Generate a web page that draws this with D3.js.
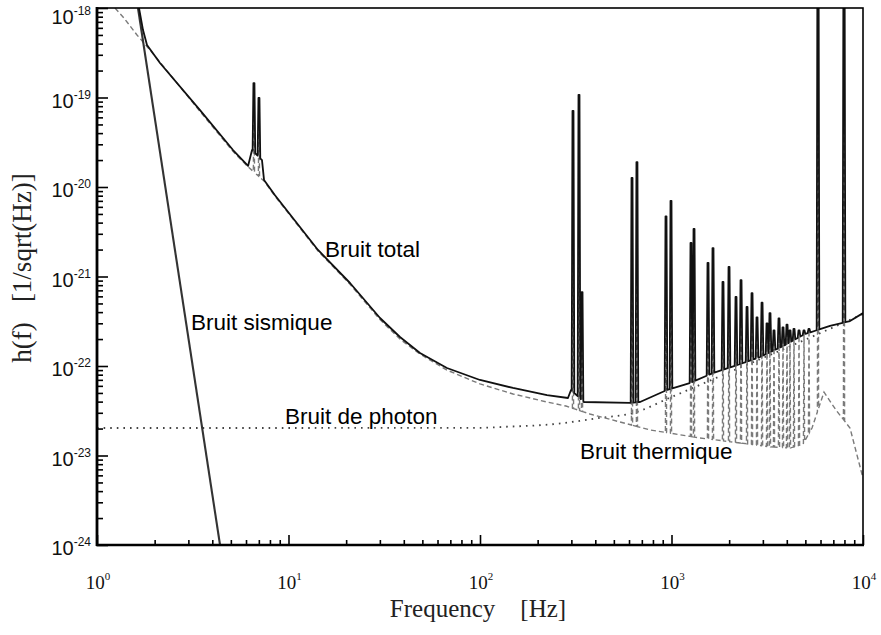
<!DOCTYPE html>
<html>
<head>
<meta charset="utf-8">
<script src="https://cdn.jsdelivr.net/npm/d3@7"></script>
<style>
  html, body { margin: 0; padding: 0; background: #fff; }
  svg { display: block; }
</style>
</head>
<body>
<script>
// ---------- DATA ----------
const xTickValues = [1, 10, 100, 1000, 10000];
const xTickExponents = ["0", "1", "2", "3", "4"];
const yTickValues = [1e-18, 1e-19, 1e-20, 1e-21, 1e-22, 1e-23, 1e-24];
const yTickExponents = ["-18", "-19", "-20", "-21", "-22", "-23", "-24"];

// Total noise, smooth floor (without resonance lines)
const totalFreq = [1.657, 1.739, 1.824, 2.133, 3.45, 5.13, 6.15, 6.45, 7.27, 7.45, 8.50, 14.26, 20.95, 30.05, 38.2, 48.6, 67.2, 100, 148.7, 223.8, 288, 298.7, 349, 607, 685, 947, 1249, 1647, 2279, 2898, 3822, 4980, 6725, 8553, 10000];
const totalH = [1e-18, 5.67e-19, 3.86e-19, 2.43e-19, 7.24e-20, 2.59e-20, 1.72e-20, 2.59e-20, 2.0e-20, 1.20e-20, 8.1e-21, 1.98e-21, 8.46e-22, 3.44e-22, 2.11e-22, 1.40e-22, 9.5e-23, 6.98e-23, 5.68e-23, 4.74e-23, 4.39e-23, 5.4e-23, 3.96e-23, 3.87e-23, 3.96e-23, 5.4e-23, 6.46e-23, 8.35e-23, 1.05e-22, 1.26e-22, 1.67e-22, 2.28e-22, 2.8e-22, 3.18e-22, 3.9e-22];

// Resonance lines (frequency, top value)
const peakFreq = [6.60, 7.01, 305.9, 328.8, 341, 622, 660, 936, 994, 1264, 1311, 1551, 1647, 1857, 1997, 2172, 2307, 2480, 2633, 2796, 2970, 3154, 3268, 3430, 3642, 3822, 4010, 4157, 4362, 4633, 4920, 5224, 5821, 7959];
const peakH = [1.45e-19, 9.9e-20, 7.1e-20, 1.07e-19, 6.7e-22, 1.26e-20, 1.90e-20, 4.7e-21, 7.0e-21, 2.37e-21, 3.4e-21, 1.42e-21, 2.08e-21, 8.7e-22, 1.28e-21, 5.9e-22, 9.1e-22, 4.56e-22, 6.5e-22, 3.5e-22, 5.1e-22, 3.0e-22, 3.9e-22, 2.5e-22, 3.4e-22, 2.7e-22, 2.9e-22, 2.5e-22, 2.6e-22, 2.5e-22, 2.5e-22, 2.6e-22, 1e-17, 1e-17];

// Thermal noise envelope (dashed)
const thermalFreq = [1.242, 1.383, 1.618, 1.891, 3.45, 5.13, 6.15, 7.45, 8.50, 14.26, 20.95, 30.05, 38.2, 48.6, 67.2, 100, 148.7, 223.8, 281, 375, 538, 772, 1409, 2279, 3268, 4157, 4862, 5417, 6256, 7228, 8553, 9305, 10000];
const thermalH = [1e-18, 7.73e-19, 4.99e-19, 3.4e-19, 7.0e-20, 2.5e-20, 1.68e-20, 1.17e-20, 7.9e-21, 1.93e-21, 8.2e-22, 3.3e-22, 2.0e-22, 1.36e-22, 9.0e-23, 6.3e-23, 4.87e-23, 3.96e-23, 3.57e-23, 2.91e-23, 2.37e-23, 1.93e-23, 1.57e-23, 1.38e-23, 1.25e-23, 1.21e-23, 1.34e-23, 2.03e-23, 5.1e-23, 3.22e-23, 2.03e-23, 1.01e-23, 5.6e-24];

// Photon (shot) noise (dotted)
const photonFreq = [1, 10, 100, 127, 252, 423, 630, 1000, 2000, 4000, 10000];
const photonH = [2.03e-23, 2.03e-23, 2.04e-23, 2.08e-23, 2.26e-23, 2.63e-23, 2.98e-23, 4.5e-23, 8.5e-23, 1.6e-22, 3.8e-22];

// Seismic noise (solid, steep)
const seismicFreq = [1.637, 4.39];
const seismicH = [1e-18, 1e-24];

const labels = [
  { text: "Bruit total", f: 15.5, h: 1.65e-21 },
  { text: "Bruit sismique", f: 3.1, h: 2.52e-22 },
  { text: "Bruit de photon", f: 9.59, h: 2.25e-23 },
  { text: "Bruit thermique", f: 333, h: 9.1e-24 }
];

// ---------- CHART ----------
const W = 881, H = 635;
const M = { left: 97, right: 863, top: 8, bottom: 545 };
const SANS = "'Liberation Sans', Arial, Helvetica, sans-serif";
const SERIF = "'Liberation Serif', 'Times New Roman', Times, serif";

const svg = d3.select("body").append("svg").attr("width", W).attr("height", H);
svg.append("rect").attr("width", W).attr("height", H).attr("fill", "#fff");

const x = d3.scaleLog().domain([1, 1e4]).range([M.left, M.right]);
const y = d3.scaleLog().domain([1e-24, 1e-18]).range([M.bottom, M.top]);

svg.append("defs").append("clipPath").attr("id", "plot")
  .append("rect").attr("x", M.left).attr("y", M.top)
  .attr("width", M.right - M.left).attr("height", M.bottom - M.top);

const zip = (F, V) => F.map((f, i) => [f, V[i]]);
const floorOf = (F, V) => {
  const s = d3.scaleLog().domain(F).range(V.map(Math.log10));
  return f => Math.pow(10, s(f));
};

// build a series with narrow resonance spikes added on its floor
function withSpikes(F, V, outer, inner, topScale) {
  const base = floorOf(F, V);
  const pts = zip(F, V).filter(([f]) =>
    !peakFreq.some(p => f > p / outer && f < p * outer));
  peakFreq.forEach((p, i) => {
    pts.push([p / outer, base(p / outer)]);
    if (inner > 1) {
      pts.push([p / inner, peakH[i] * topScale]);
      pts.push([p * inner, peakH[i] * topScale]);
    } else {
      pts.push([p, peakH[i] * topScale]);
    }
    pts.push([p * outer, base(p * outer)]);
  });
  return pts.sort((a, b) => a[0] - b[0]);
}

const line = d3.line().x(d => x(d[0])).y(d => y(d[1])).curve(d3.curveMonotoneX);
const lineLin = d3.line().x(d => x(d[0])).y(d => y(d[1]));

const g = svg.append("g").attr("clip-path", "url(#plot)");

// photon noise
g.append("path").datum(zip(photonFreq, photonH))
  .attr("d", line).attr("fill", "none")
  .attr("stroke", "#444").attr("stroke-width", 1.8)
  .attr("stroke-dasharray", "1.6,5");

// thermal noise
g.append("path").datum(withSpikes(thermalFreq, thermalH, 1.007, 1, 0.97))
  .attr("d", lineLin).attr("fill", "none")
  .attr("stroke", "#7a7a7a").attr("stroke-width", 1.4)
  .attr("stroke-dasharray", "5,3");

// seismic noise
g.append("path").datum(zip(seismicFreq, seismicH))
  .attr("d", lineLin).attr("fill", "none")
  .attr("stroke", "#333").attr("stroke-width", 2.1);

// total noise
g.append("path").datum(withSpikes(totalFreq, totalH, 1.016, 1.006, 1))
  .attr("d", lineLin).attr("fill", "none")
  .attr("stroke", "#111").attr("stroke-width", 1.8)
  .attr("stroke-linejoin", "round");

// ---------- AXES ----------
const xMinor = [], yMinor = [];
for (let e = 0; e < 4; e++) for (let k = 2; k <= 9; k++) xMinor.push(k * Math.pow(10, e));
for (let e = -24; e < -18; e++) for (let k = 2; k <= 9; k++) yMinor.push(+(k + "e" + e));

function styleAxis(sel) {
  sel.select(".domain").remove();
  sel.selectAll("line").attr("stroke", "#000").attr("stroke-width", 1.6);
}
svg.append("g").attr("transform", `translate(0,${M.bottom})`)
  .call(d3.axisBottom(x).tickValues(xTickValues).tickSize(-10).tickFormat(""))
  .call(styleAxis);
svg.append("g").attr("transform", `translate(0,${M.bottom})`)
  .call(d3.axisBottom(x).tickValues(xMinor).tickSize(-5).tickFormat(""))
  .call(styleAxis);
svg.append("g").attr("transform", `translate(${M.left},0)`)
  .call(d3.axisLeft(y).tickValues(yTickValues).tickSize(-11).tickFormat(""))
  .call(styleAxis);
svg.append("g").attr("transform", `translate(${M.left},0)`)
  .call(d3.axisLeft(y).tickValues(yMinor).tickSize(-6).tickFormat(""))
  .call(styleAxis);

// frame
svg.append("rect").attr("x", M.left).attr("y", M.top)
  .attr("width", M.right - M.left).attr("height", M.bottom - M.top)
  .attr("fill", "none").attr("stroke", "#000").attr("stroke-width", 1.6);
svg.append("line").attr("x1", M.left).attr("x2", M.left).attr("y1", M.top - 1).attr("y2", M.bottom + 1)
  .attr("stroke", "#000").attr("stroke-width", 2.8);
svg.append("line").attr("x1", M.left - 1).attr("x2", M.right + 1).attr("y1", M.bottom).attr("y2", M.bottom)
  .attr("stroke", "#000").attr("stroke-width", 2.6);

// y tick labels
yTickValues.forEach((v, i) => {
  const ty = Math.max(y(v) + 10, 24);
  const t = svg.append("text").attr("x", 91).attr("y", ty)
    .attr("text-anchor", "end").attr("font-family", SANS).attr("fill", "#111");
  t.append("tspan").attr("font-size", 20).text("10");
  t.append("tspan").attr("font-size", 12).attr("dy", -9).text(yTickExponents[i]);
});

// x tick labels
xTickValues.forEach((v, i) => {
  const t = svg.append("text").attr("x", x(v) + 1).attr("y", 589)
    .attr("text-anchor", "middle").attr("font-family", SERIF).attr("fill", "#111");
  t.append("tspan").attr("font-size", 19).text("10");
  t.append("tspan").attr("font-size", 11).attr("dy", -9).text(xTickExponents[i]);
});

// axis titles
svg.append("text").attr("x", 478).attr("y", 617)
  .attr("text-anchor", "middle").attr("font-family", SERIF).attr("font-size", 25)
  .attr("fill", "#222").style("white-space", "pre")
  .text("Frequency    [Hz]");
svg.append("text").attr("transform", "translate(31,268) rotate(-90)")
  .attr("text-anchor", "middle").attr("font-family", SERIF).attr("font-size", 27)
  .attr("fill", "#222").style("white-space", "pre")
  .text("h(f)   [1/sqrt(Hz)]");

// annotations
labels.forEach(d => {
  svg.append("text").attr("x", x(d.f)).attr("y", y(d.h))
    .attr("font-family", SANS).attr("font-size", 22.5).attr("fill", "#000")
    .text(d.text);
});
</script>
</body>
</html>
